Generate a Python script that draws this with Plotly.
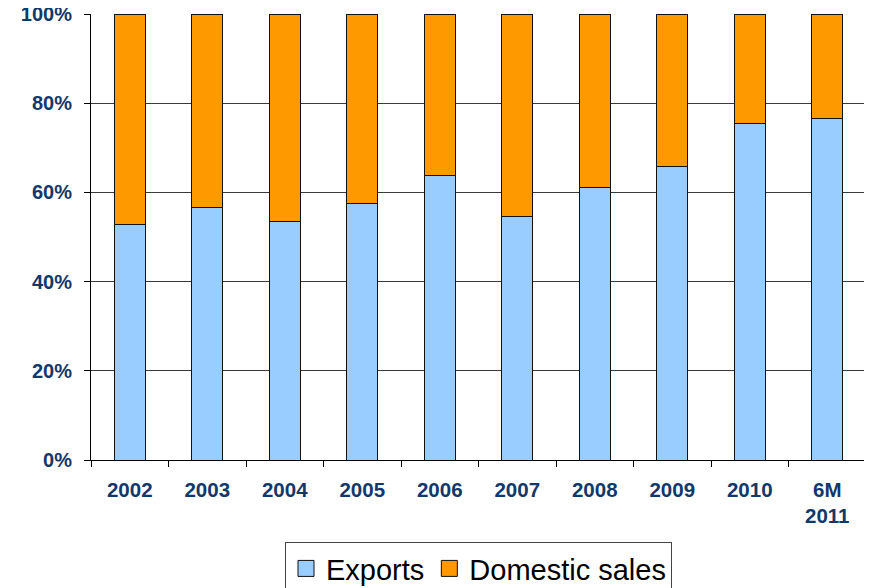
import plotly.graph_objects as go

categories = ["2002", "2003", "2004", "2005", "2006", "2007", "2008", "2009", "2010", "6M<br>2011"]
exports = [52.7, 56.6, 53.4, 57.6, 63.9, 54.5, 61.0, 65.9, 75.5, 76.6]
domestic = [round(100 - v, 1) for v in exports]
y_ticks = [0, 20, 40, 60, 80, 100]
y_labels = ["0%", "20%", "40%", "60%", "80%", "100%"]

BLUE = "#99CCFF"
ORANGE = "#FF9900"
NAVY = "#12386b"
FONT = "Liberation Sans, Arial, sans-serif"

fig = go.Figure()
fig.add_trace(go.Bar(x=categories, y=exports, name="Exports", marker=dict(color=BLUE, line=dict(color="#111", width=1)),
                     showlegend=False))
fig.add_trace(go.Bar(x=categories, y=domestic, name="Domestic sales", marker=dict(color=ORANGE, line=dict(color="#111", width=1)),
                     showlegend=False))
# legend entries with larger square symbols
fig.add_trace(go.Scatter(x=[None], y=[None], mode="markers", name="Exports",
                         marker=dict(symbol="square", size=16, color=BLUE, line=dict(color="#111", width=1))))
fig.add_trace(go.Scatter(x=[None], y=[None], mode="markers", name="Domestic sales",
                         marker=dict(symbol="square", size=16, color=ORANGE, line=dict(color="#111", width=1))))

fig.update_layout(
    width=864, height=580,
    barmode="stack", bargap=0.6,
    margin=dict(l=83, r=6, t=6, b=128, autoexpand=False),
    plot_bgcolor="white", paper_bgcolor="white",
    font=dict(family=FONT),
    legend=dict(orientation="h", x=0.5, xanchor="center", y=-0.184, yanchor="top", traceorder="normal",
                font=dict(size=29, color="black"), bordercolor="#444", borderwidth=1,
                itemsizing="trace", bgcolor="white"),
    xaxis=dict(type="category", showline=True, linecolor="black", linewidth=1, automargin=False,
               ticks="outside", ticklen=6, tickcolor="black", tickson="boundaries", ticklabelstandoff=11,
               tickfont=dict(size=20.5, color=NAVY, family=FONT, weight="bold"),
               showgrid=False),
    yaxis=dict(range=[0, 100], tickvals=y_ticks, ticktext=y_labels, showline=True, linecolor="black", linewidth=1,
               ticks="outside", ticklen=6, tickcolor="black", ticklabelstandoff=8, automargin=False,
               ticklabeloverflow="allow",
               tickfont=dict(size=20, color=NAVY, family=FONT, weight="bold"),
               showgrid=True, gridcolor="#3a3a3a", gridwidth=1, zeroline=False),
)
fig.write_html("out.html")
